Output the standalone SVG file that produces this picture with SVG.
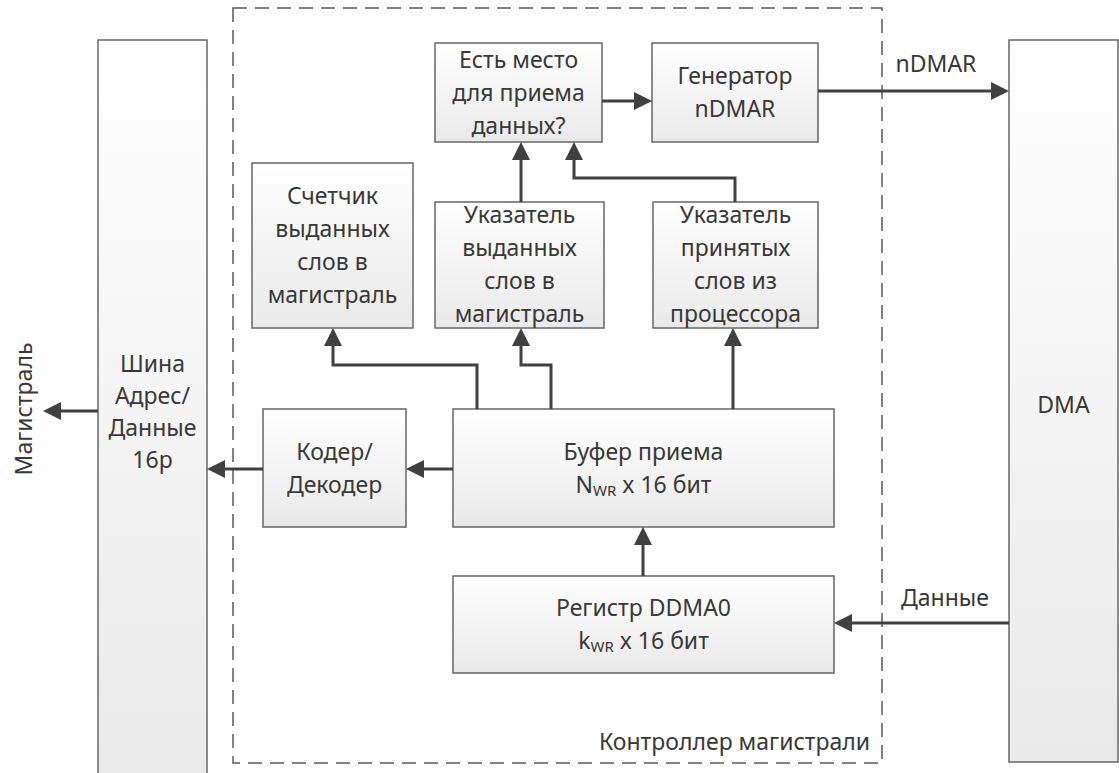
<svg xmlns="http://www.w3.org/2000/svg" width="1119" height="773" viewBox="0 0 1119 773">
  <defs>
    <linearGradient id="boxFill" x1="0" y1="0" x2="0" y2="1">
      <stop offset="0" stop-color="#ffffff"/>
      <stop offset="1" stop-color="#e9e9e9"/>
    </linearGradient>
    <marker id="arrow" markerUnits="userSpaceOnUse" markerWidth="18" markerHeight="18" refX="10" refY="9" orient="auto">
      <path d="M0,0 L18,9 L0,18 z" fill="#404040"/>
    </marker>
    <style>
      .box { fill: url(#boxFill); stroke: #666666; stroke-width: 1.5; }
      .frame { fill: none; stroke: #5a5a5a; stroke-width: 1.5; stroke-dasharray: 14 8; }
      .wire { fill: none; stroke: #404040; stroke-width: 3; marker-end: url(#arrow); }
      text { font-family: "Noto Sans", "Open Sans", sans-serif; font-size: 23px; fill: #383838; text-anchor: middle; }
      .sub { font-size: 15px; }
    </style>
  </defs>

  <!-- controller boundary -->
  <g id="controller">
    <rect class="frame" x="233" y="8" width="649" height="755"/>
    <text x="870" y="750" style="text-anchor:end">Контроллер магистрали</text>
  </g>

  <!-- external bus -->
  <g id="bus">
    <rect class="box" x="98" y="40" width="109" height="745"/>
    <text x="152.5" y="372">Шина</text>
    <text x="152.5" y="404">Адрес/</text>
    <text x="152.5" y="436">Данные</text>
    <text x="152.5" y="468">16р</text>
  </g>
  <g id="bus-label">
    <text transform="translate(32,409) rotate(-90)">Магистраль</text>
  </g>

  <!-- DMA block -->
  <g id="dma">
    <rect class="box" x="1009" y="40" width="109" height="722"/>
    <text x="1063.5" y="413">DMA</text>
  </g>

  <g id="space-check">
    <rect class="box" x="435" y="43" width="167" height="99"/>
    <text x="518.5" y="68">Есть место</text>
    <text x="518.5" y="101">для приема</text>
    <text x="518.5" y="134">данных?</text>
  </g>

  <g id="ndmar-gen">
    <rect class="box" x="652" y="43" width="166" height="99"/>
    <text x="735" y="84">Генератор</text>
    <text x="735" y="117">nDMAR</text>
  </g>

  <g id="out-counter">
    <rect class="box" x="252" y="163" width="161" height="165"/>
    <text x="332.5" y="204">Счетчик</text>
    <text x="332.5" y="237">выданных</text>
    <text x="332.5" y="270">слов в</text>
    <text x="332.5" y="303">магистраль</text>
  </g>

  <g id="out-pointer">
    <rect class="box" x="435" y="202" width="169" height="126"/>
    <text x="519.5" y="223">Указатель</text>
    <text x="519.5" y="256">выданных</text>
    <text x="519.5" y="289">слов в</text>
    <text x="519.5" y="322">магистраль</text>
  </g>

  <g id="in-pointer">
    <rect class="box" x="653" y="202" width="165" height="126"/>
    <text x="735.5" y="223">Указатель</text>
    <text x="735.5" y="256">принятых</text>
    <text x="735.5" y="289">слов из</text>
    <text x="735.5" y="322">процессора</text>
  </g>

  <g id="codec">
    <rect class="box" x="263" y="409" width="143" height="118"/>
    <text x="334.5" y="460">Кодер/</text>
    <text x="334.5" y="493">Декодер</text>
  </g>

  <g id="rx-buffer">
    <rect class="box" x="453" y="409" width="381" height="118"/>
    <text x="643.5" y="460">Буфер приема</text>
    <text x="643.5" y="493">N<tspan class="sub" dy="3">WR</tspan><tspan dy="-3"> x 16 бит</tspan></text>
  </g>

  <g id="ddma0">
    <rect class="box" x="453" y="576" width="381" height="97"/>
    <text x="643.5" y="616">Регистр DDMA0</text>
    <text x="643.5" y="649">k<tspan class="sub" dy="3">WR</tspan><tspan dy="-3"> x 16 бит</tspan></text>
  </g>

  <!-- signal labels -->
  <g id="labels">
    <text x="936" y="72">nDMAR</text>
    <text x="945" y="606">Данные</text>
  </g>

  <!-- connectors -->
  <g id="connectors">
    <path class="wire" d="M98,411 H51"/>
    <path class="wire" d="M263,469 H215"/>
    <path class="wire" d="M453,469 H414"/>
    <path class="wire" d="M643,576 V535"/>
    <path class="wire" d="M1009,623 H842"/>
    <path class="wire" d="M477,409 V365 H333 V336"/>
    <path class="wire" d="M551,409 V365 H521 V336"/>
    <path class="wire" d="M733,409 V336"/>
    <path class="wire" d="M521,202 V150"/>
    <path class="wire" d="M735,202 V178 H574 V150"/>
    <path class="wire" d="M602,101 H644"/>
    <path class="wire" d="M818,91 H1001"/>
  </g>
</svg>
